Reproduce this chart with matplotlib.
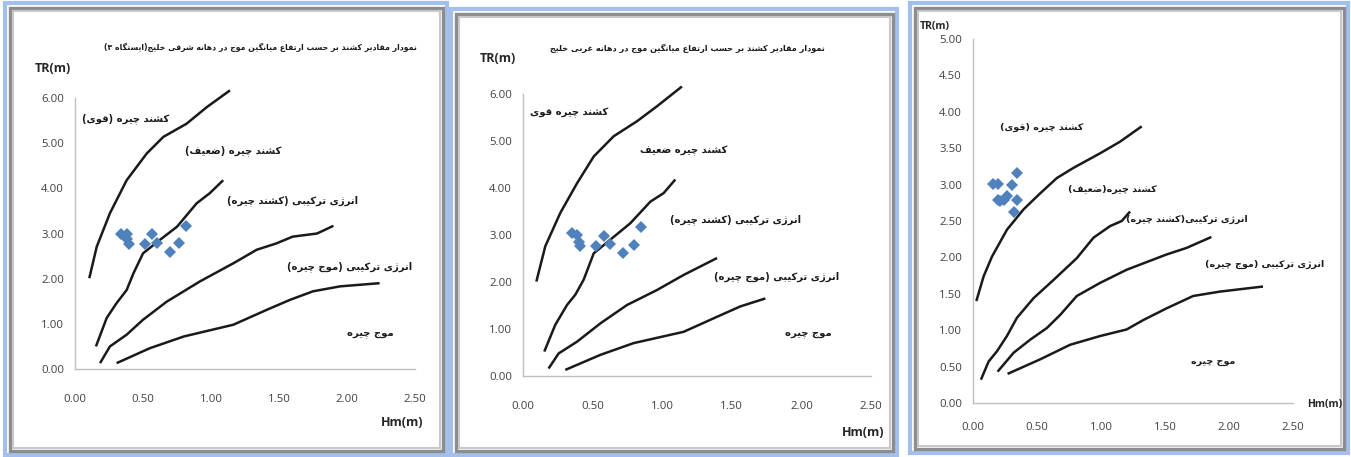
import matplotlib
matplotlib.use("Agg")
import matplotlib.pyplot as plt
from matplotlib.patches import Rectangle

W, H = 1351, 457

# --- panel 1: eastern mouth (station 3) ---
p1_strong_hm = [0.105, 0.16, 0.257, 0.38, 0.527, 0.65, 0.82, 0.97, 1.14]
p1_strong_tr = [2.01, 2.71, 3.45, 4.18, 4.77, 5.14, 5.43, 5.80, 6.17]
p1_weak_hm = [0.154, 0.233, 0.306, 0.38, 0.43, 0.50, 0.625, 0.75, 0.895, 0.99, 1.09]
p1_weak_tr = [0.50, 1.13, 1.46, 1.75, 2.12, 2.56, 2.86, 3.15, 3.67, 3.89, 4.18]
p1_mixtide_hm = [0.184, 0.257, 0.38, 0.50, 0.674, 0.919, 1.164, 1.336, 1.48, 1.60, 1.78, 1.90]
p1_mixtide_tr = [0.13, 0.50, 0.76, 1.09, 1.49, 1.94, 2.34, 2.64, 2.78, 2.93, 3.00, 3.17]
p1_mixwave_hm = [0.306, 0.55, 0.80, 1.164, 1.41, 1.58, 1.75, 1.95, 2.24]
p1_mixwave_tr = [0.13, 0.46, 0.72, 0.98, 1.31, 1.53, 1.72, 1.83, 1.90]
p1_obs_hm = [0.336, 0.380, 0.385, 0.399, 0.515, 0.568, 0.605, 0.699, 0.765, 0.814]
p1_obs_tr = [3.00, 3.00, 2.87, 2.77, 2.77, 2.99, 2.80, 2.60, 2.80, 3.17]

# --- panel 2: western mouth ---
p2_strong_hm = [0.096, 0.16, 0.268, 0.388, 0.508, 0.651, 0.819, 0.963, 1.142]
p2_strong_tr = [2.01, 2.76, 3.47, 4.10, 4.67, 5.10, 5.42, 5.74, 6.16]
p2_weak_hm = [0.153, 0.232, 0.316, 0.376, 0.436, 0.508, 0.627, 0.771, 0.915, 1.01, 1.094]
p2_weak_tr = [0.52, 1.09, 1.51, 1.73, 2.05, 2.61, 2.90, 3.25, 3.71, 3.89, 4.18]
p2_mixtide_hm = [0.184, 0.256, 0.388, 0.556, 0.747, 0.963, 1.154, 1.394]
p2_mixtide_tr = [0.16, 0.48, 0.73, 1.12, 1.51, 1.83, 2.15, 2.51]
p2_mixwave_hm = [0.304, 0.556, 0.795, 1.154, 1.394, 1.561, 1.741]
p2_mixwave_tr = [0.13, 0.45, 0.70, 0.94, 1.26, 1.48, 1.65]
p2_obs_hm = [0.352, 0.388, 0.400, 0.412, 0.527, 0.584, 0.628, 0.718, 0.795, 0.848]
p2_obs_tr = [3.04, 3.00, 2.86, 2.76, 2.76, 2.98, 2.81, 2.61, 2.79, 3.17]

# --- panel 3 ---
p3_strong_hm = [0.026, 0.083, 0.148, 0.265, 0.395, 0.525, 0.655, 0.785, 0.993, 1.149, 1.318]
p3_strong_tr = [1.40, 1.74, 2.01, 2.38, 2.66, 2.88, 3.09, 3.23, 3.43, 3.59, 3.80]
p3_weak_hm = [0.062, 0.122, 0.187, 0.265, 0.343, 0.473, 0.629, 0.811, 0.941, 1.071, 1.162, 1.227]
p3_weak_tr = [0.32, 0.57, 0.71, 0.92, 1.17, 1.44, 1.69, 1.99, 2.27, 2.43, 2.50, 2.63]
p3_mixtide_hm = [0.192, 0.317, 0.447, 0.577, 0.681, 0.811, 0.993, 1.20, 1.512, 1.668, 1.862]
p3_mixtide_tr = [0.43, 0.69, 0.87, 1.03, 1.21, 1.47, 1.65, 1.83, 2.04, 2.13, 2.28]
p3_mixwave_hm = [0.27, 0.525, 0.759, 0.993, 1.20, 1.331, 1.512, 1.72, 1.928, 2.266]
p3_mixwave_tr = [0.40, 0.60, 0.80, 0.92, 1.01, 1.14, 1.30, 1.47, 1.53, 1.60]
p3_obs_hm = [0.156, 0.192, 0.192, 0.213, 0.239, 0.265, 0.304, 0.317, 0.343, 0.343]
p3_obs_tr = [3.01, 3.01, 2.79, 2.77, 2.79, 2.84, 2.99, 2.63, 3.16, 2.79]

title1 = "نمودار مقادیر کشند بر حسب ارتفاع میانگین موج در دهانه شرقی خلیج(ایستگاه ۳)"
title2 = "نمودار مقادیر کشند بر حسب ارتفاع میانگین موج در دهانه غربی خلیج"
labels1 = ["کشند چیره (قوی)", "کشند چیره (ضعیف)", "انرژی ترکیبی (کشند چیره)",
           "انرژی ترکیبی (موج چیره)", "موج چیره"]
labels2 = ["کشند چیره قوی", "کشند چیره ضعیف", "انرژی ترکیبی (کشند چیره)",
           "انرژی ترکیبی (موج چیره)", "موج چیره"]
labels3 = ["کشند چیره (قوی)", "کشند چیره(ضعیف)", "انرژی ترکیبی(کشند چیره)",
           "انرژی ترکیبی (موج چیره)", "موج چیره"]

# matplotlib has no Arabic shaping, so map letters to presentation forms
# (isolated, final, initial, medial) and lay the string out right-to-left.
BASE = {'ا': 0xFE8D, 'د': 0xFEA9, 'ر': 0xFEAD, 'ز': 0xFEAF, 'ژ': 0xFB8A, 'و': 0xFEED,
        'ب': 0xFE8F, 'پ': 0xFB56, 'ت': 0xFE95, 'ث': 0xFE99, 'ج': 0xFE9D, 'چ': 0xFB7A,
        'ح': 0xFEA1, 'خ': 0xFEA5, 'س': 0xFEB1, 'ش': 0xFEB5, 'ص': 0xFEB9, 'ض': 0xFEBD,
        'ط': 0xFEC1, 'ظ': 0xFEC5, 'ع': 0xFEC9, 'غ': 0xFECD, 'ف': 0xFED1, 'ق': 0xFED5,
        'ک': 0xFB8E, 'گ': 0xFB92, 'ل': 0xFEDD, 'م': 0xFEE1, 'ن': 0xFEE5, 'ه': 0xFEE9,
        'ی': 0xFBFC}
RIGHT_ONLY = set('ادرزژو')


def fa(text):
    out = []
    for i, ch in enumerate(text):
        if ch not in BASE:
            out.append(ch)
            continue
        prev = text[i - 1] if i > 0 else ''
        nxt = text[i + 1] if i + 1 < len(text) else ''
        join_prev = prev in BASE and prev not in RIGHT_ONLY
        join_next = ch not in RIGHT_ONLY and nxt in BASE
        if join_prev and join_next:
            k = 3
        elif join_prev:
            k = 1
        elif join_next:
            k = 2
        else:
            k = 0
        out.append(chr(BASE[ch] + k))
    s = ''.join(reversed(out))
    return s.replace('(', '\0').replace(')', '(').replace('\0', ')')


def px_axes(fig, left, right, top, bottom):
    return fig.add_axes([left / W, 1 - bottom / H, (right - left) / W, (bottom - top) / H])


def frame(fig, x0, y0, x1, y1):
    # light blue outer border with a grey inner shadow
    fig.patches.append(Rectangle((x0 / W, 1 - y1 / H), (x1 - x0) / W, (y1 - y0) / H,
                                 transform=fig.transFigure, fill=False,
                                 edgecolor='#a3c0ec', linewidth=3.0))
    fig.patches.append(Rectangle(((x0 + 5) / W, 1 - (y1 - 4) / H), (x1 - x0 - 9) / W,
                                 (y1 - y0 - 9) / H, transform=fig.transFigure, fill=False,
                                 edgecolor='#8c8c8c', linewidth=2.4))
    fig.patches.append(Rectangle(((x0 + 8) / W, 1 - (y1 - 7) / H), (x1 - x0 - 15) / W,
                                 (y1 - y0 - 15) / H, transform=fig.transFigure, fill=False,
                                 edgecolor='#c8c8c8', linewidth=1.5))


def setup(ax, ymax, ystep, xpad):
    ax.set_xlim(0, 2.5)
    ax.set_ylim(0, ymax)
    ax.set_xticks([0, 0.5, 1.0, 1.5, 2.0, 2.5])
    yt = [i * ystep for i in range(int(round(ymax / ystep)) + 1)]
    ax.set_yticks(yt)
    ax.set_xticklabels([f"{v:.2f}" for v in [0, 0.5, 1.0, 1.5, 2.0, 2.5]])
    ax.set_yticklabels([f"{v:.2f}" for v in yt])
    for s in ['top', 'right']:
        ax.spines[s].set_visible(False)
    for s in ['left', 'bottom']:
        ax.spines[s].set_color('#bfbfbf')
        ax.spines[s].set_linewidth(1.0)
    ax.tick_params(length=0, colors='#404040', labelsize=8.2)
    ax.tick_params(axis='x', pad=xpad)
    ax.tick_params(axis='y', pad=8)
    for t in ax.get_xticklabels() + ax.get_yticklabels():
        t.set_fontfamily('Open Sans')
    ax.patch.set_alpha(0)


def curves(ax, series, obs_hm, obs_tr):
    for hm, tr in series:
        ax.plot(hm, tr, color='#1a1a1a', lw=1.8, clip_on=False,
                solid_capstyle='butt', solid_joinstyle='round')
    ax.plot(obs_hm, obs_tr, 'D', color='#4f81bd', markersize=6.5, markeredgewidth=0,
            clip_on=False)


def put_labels(ax, labels, positions, size):
    for lab, (x, y) in zip(labels, positions):
        ax.text(x, y, fa(lab), ha='center', va='center', fontsize=size,
                fontweight='bold', family='DejaVu Sans', color='#1a1a1a')


fig = plt.figure(figsize=(W / 100, H / 100), dpi=100)
fig.patch.set_facecolor('white')

frame(fig, 5, 3, 447, 455)
frame(fig, 451, 9, 897, 455)
frame(fig, 910, 3, 1348, 453)

ax1 = px_axes(fig, 75, 415, 98, 369)
setup(ax1, 6, 1.0, 18)
curves(ax1, [(p1_strong_hm, p1_strong_tr), (p1_weak_hm, p1_weak_tr),
             (p1_mixtide_hm, p1_mixtide_tr), (p1_mixwave_hm, p1_mixwave_tr)],
       p1_obs_hm, p1_obs_tr)
put_labels(ax1, labels1, [(0.37, 5.54), (1.16, 4.83), (1.60, 3.74), (2.02, 2.27), (2.17, 0.80)], 7.2)
fig.text(260 / W, 1 - 47 / H, fa(title1), ha='center', va='center', fontsize=5.6,
         fontweight='bold', family='DejaVu Sans', color='#1a1a1a')
fig.text(53 / W, 1 - 68 / H, "TR(m)", ha='center', va='center', fontsize=9,
         fontweight='bold', family='Open Sans', color='#262626')
fig.text(402 / W, 1 - 423 / H, "Hm(m)", ha='center', va='center', fontsize=9,
         fontweight='bold', family='Open Sans', color='#262626')

ax2 = px_axes(fig, 523, 871, 94, 376)
setup(ax2, 6, 1.0, 18)
curves(ax2, [(p2_strong_hm, p2_strong_tr), (p2_weak_hm, p2_weak_tr),
             (p2_mixtide_hm, p2_mixtide_tr), (p2_mixwave_hm, p2_mixwave_tr)],
       p2_obs_hm, p2_obs_tr)
put_labels(ax2, labels2, [(0.33, 5.60), (1.154, 4.80), (1.525, 3.32), (1.825, 2.12), (2.05, 0.91)], 7.2)
fig.text(687 / W, 1 - 48 / H, fa(title2), ha='center', va='center', fontsize=5.9,
         fontweight='bold', family='DejaVu Sans', color='#1a1a1a')
fig.text(498 / W, 1 - 58 / H, "TR(m)", ha='center', va='center', fontsize=9,
         fontweight='bold', family='Open Sans', color='#262626')
fig.text(863 / W, 1 - 432 / H, "Hm(m)", ha='center', va='center', fontsize=9,
         fontweight='bold', family='Open Sans', color='#262626')

ax3 = px_axes(fig, 973, 1293, 39, 403)
setup(ax3, 5, 0.5, 14)
curves(ax3, [(p3_strong_hm, p3_strong_tr), (p3_weak_hm, p3_weak_tr),
             (p3_mixtide_hm, p3_mixtide_tr), (p3_mixwave_hm, p3_mixwave_tr)],
       p3_obs_hm, p3_obs_tr)
put_labels(ax3, labels3, [(0.538, 3.78), (1.09, 2.94), (1.674, 2.52), (2.28, 1.90), (1.876, 0.56)], 6.8)
fig.text(935 / W, 1 - 27 / H, "TR(m)", ha='center', va='center', fontsize=7.5,
         fontweight='bold', family='Open Sans', color='#262626')
fig.text(1325 / W, 1 - 404 / H, "Hm(m)", ha='center', va='center', fontsize=7.5,
         fontweight='bold', family='Open Sans', color='#262626')

fig.savefig("out.png", dpi=100)
